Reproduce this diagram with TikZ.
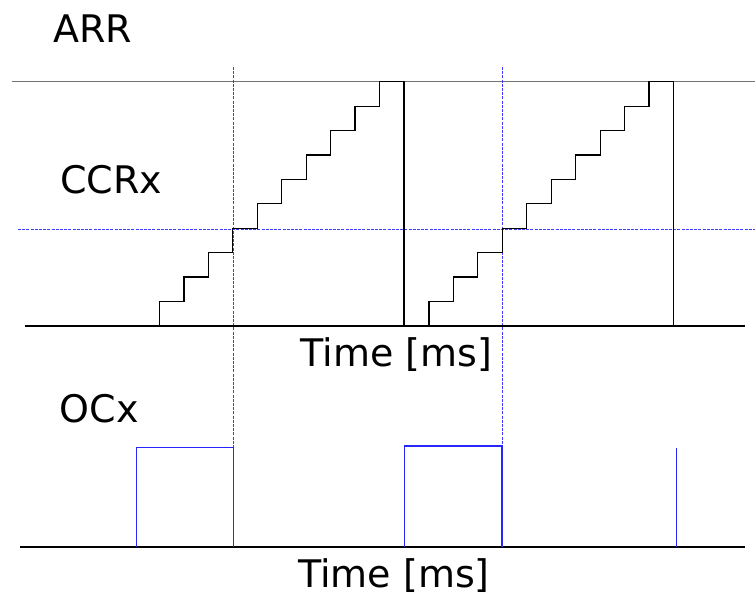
\documentclass[tikz,border=0pt]{standalone}
\usepackage{fontspec}
\setmainfont{DejaVu Sans}
\begin{document}
\begin{tikzpicture}[x=1pt,y=-1pt,
  lbl/.style={anchor=base west,inner sep=0pt,font=\fontsize{38}{40}\selectfont},
  arrline/.style={draw=black!55,line width=1.3pt},
  axis/.style={draw=black,line width=2pt},
  stair/.style={draw=black,line width=1.2pt,line join=miter},
  guide/.style={draw={rgb,255:red,60;green,60;blue,255},line width=1pt,dash pattern=on 3pt off 1.2pt},
  pulse/.style={draw=blue!85,line width=1.2pt}]
\useasboundingbox (0,0) rectangle (755,595);
% labels
\node[lbl] (arr) at (53,42.3) {ARR};
\node[lbl] (ccr) at (60,193.3) {CCRx};
\node[lbl] (t1) at (300.5,366.5) {Time [ms]};
\node[lbl] (ocx) at (59.5,422.3) {OCx};
\node[lbl,text depth=4pt] (t2) at (298,587.5) {Time [ms]};
% reference lines
\draw[arrline] (12,81.7) -- (755,81.7);
\draw[guide] (18,229.5) -- (755,229.5);
\draw[guide] (233.5,67) -- (233.5,447);
\draw[guide] (502.5,67) -- (502.5,446);
% axes
\draw[axis] (25,325.7) -- (745,325.7);
\draw[axis] (20,546.7) -- (745,546.7);
% staircases
\foreach \s in {135,404.5}{
  \draw[stair] (\s,325.7) foreach \i in {0,...,9} { -- ++(24.45,0) -- ++(0,-24.4) }
     -- ++(24.45,0) -- ++(0,244);
}
% OCx
\draw[pulse] (136.7,546.7) -- (136.7,447.3) -- (233.3,447.3) -- (233.3,546.7);
\draw[pulse] (404.5,546.7) -- (404.5,446) -- (502,446) -- (502,546.7);
\draw[pulse] (676.3,448.3) -- (676.3,546.7);
\end{tikzpicture}
\end{document}
